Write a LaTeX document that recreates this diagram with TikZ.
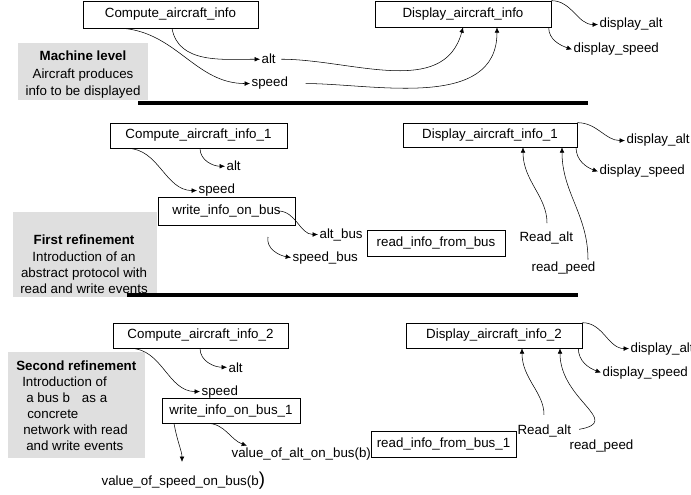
\documentclass[tikz,border=0pt]{standalone}
\usepackage{fontspec}
\setmainfont{Liberation Sans}
\usetikzlibrary{arrows.meta}

\begin{document}
\begin{tikzpicture}[x=0.75pt,y=-0.75pt,
		font=\fontsize{10}{12}\selectfont,
		box/.style={draw,line width=0.5,inner sep=0pt},
		lbl/.style={anchor=base west,inner sep=1pt},
		flow/.style={line width=0.4,-{Latex[length=4pt,width=3.5pt]}},
		panel/.style={fill=gray!25},
		sep/.style={line width=2.4}]
			\useasboundingbox (0,0) rectangle (691,495);
			% machine level
			\node[box,minimum width=131.25pt,minimum height=20.25pt] (cai) at (170.5,14.5) {Compute\_aircraft\_info};
			\node[box,minimum width=132pt,minimum height=19.5pt] (dai) at (463,14) {Display\_aircraft\_info};
			\node[lbl] (alt1) at (260,64) {alt};
			\node[lbl] (spd1) at (250,87) {speed};
			\node[lbl] (dalt1) at (598,28) {display\_alt};
			\node[lbl] (dspd1) at (572,53) {display\_speed};
			\fill[panel] (18,43) rectangle (148,100);
			\node[align=center,anchor=north,inner sep=0pt,font=\fontsize{10}{13}\selectfont] (lvl0) at (83,51)
				{\textbf{Machine level}\\Aircraft produces\\info to be displayed};
			\draw[flow] (172,0 |- cai.south) to[out=-80,in=180] (alt1.west);
			\draw[flow] (123,0 |- cai.south) to[out=-5,in=180] (spd1.west);
			\draw[flow,shorten <=3pt] (alt1.east) to[out=0,in=-105] (463,0 |- dai.south);
			\draw[flow,shorten <=12pt] (spd1.east) to[out=0,in=-90] (497,0 |- dai.south);
			\draw[flow] (dai.north east) to[out=0,in=180] (dalt1.west);
			\draw[flow] ([xshift=-2pt]dai.south east) to[out=-90,in=160] (dspd1.west);
			\draw[sep] (138,103) -- (588,103);
			% first refinement
			\node[box,minimum width=132.75pt,minimum height=18.75pt] (cai1) at (198.5,135.5) {Compute\_aircraft\_info\_1};
			\node[box,minimum width=102.75pt,minimum height=21pt] (wib) at (226.5,211) {write\_info\_on\_bus};
			\node[box,minimum width=130.5pt,minimum height=18pt] (dai1) at (490,135) {Display\_aircraft\_info\_1};
			\node[box,minimum width=103.5pt,minimum height=19.5pt] (rib) at (436,243) {read\_info\_from\_bus};
			\node[lbl] (alt2) at (225,171) {alt};
			\node[lbl] (spd2) at (197,194) {speed};
			\node[lbl] (altbus) at (318,238) {alt\_bus};
			\node[lbl] (spdbus) at (291,261) {speed\_bus};
			\node[lbl] (dalt2) at (625,144) {display\_alt};
			\node[lbl] (dspd2) at (598,175) {display\_speed};
			\node[lbl] (ralt1) at (518,241) {Read\_alt};
			\node[lbl] (rpd1) at (530,271) {read\_peed};
			\coordinate (sbfrom) at (268,237);
			\fill[panel] (13,212) rectangle (157,297);
			\node[align=center,anchor=north,inner sep=0pt,font=\fontsize{10}{12.25}\selectfont] (lvl1) at (84,235)
				{\textbf{First refinement}\\Introduction of an\\abstract protocol with\\read and write events};
			\draw[flow] (200,0 |- cai1.south) to[out=-90,in=180] (alt2.west);
			\draw[flow] (127,0 |- cai1.south) to[out=0,in=180] (spd2.west);
			\draw[flow] ([xshift=-13pt]wib.east) to[out=0,in=180] (altbus.west);
			\draw[flow] (sbfrom) to[out=-100,in=170] (spdbus.west);
			\draw[flow] (dai1.north east) to[out=0,in=180] (dalt2.west);
			\draw[flow] ([xshift=-1pt]dai1.south east) to[out=-90,in=160] (dspd2.west);
			\draw[flow,shorten <=5pt] (547,0 |- ralt1.north) to[out=90,in=-90] (523,0 |- dai1.south);
			\draw[flow] (588,0 |- rpd1.north) to[out=90,in=-90] (562,0 |- dai1.south);
			\draw[sep] (127,295) -- (578,295);
			% second refinement
			\node[box,minimum width=131.25pt,minimum height=18.75pt] (cai2) at (200.5,335.5) {Compute\_aircraft\_info\_2};
			\node[box,minimum width=103.5pt,minimum height=18.75pt] (wib1) at (231,410.5) {write\_info\_on\_bus\_1};
			\node[box,minimum width=132pt,minimum height=18.75pt] (dai2) at (494,335.5) {Display\_aircraft\_info\_2};
			\node[box,minimum width=108.75pt,minimum height=19.5pt] (rib1) at (443.5,444) {read\_info\_from\_bus\_1};
			\node[lbl] (alt3) at (227,372) {alt};
			\node[lbl] (spd3) at (200,395) {speed};
			\node[lbl] (valt) at (230,457) {value\_of\_alt\_on\_bus(b)};
			\node[lbl] (vspd) at (100,485) {value\_of\_speed\_on\_bus(b{\fontsize{14}{14}\selectfont )}};
			\node[lbl] (dalt3) at (629,352) {display\_alt};
			\node[lbl] (dspd3) at (601,376) {display\_speed};
			\node[lbl] (ralt2) at (516,434) {Read\_alt};
			\node[lbl] (rpd2) at (568,449) {read\_peed};
			\fill[panel] (8,352) rectangle (145,458);
			\node[align=left,anchor=north west,inner sep=0pt] (lvl2) at (16,361)
				{\textbf{Second refinement}\\
				\hspace*{4.5pt}Introduction of\\
				\hspace*{7.5pt}a bus b\hspace{9pt}as a\\
				\hspace*{8.25pt}concrete\\
				\hspace*{5.25pt}network with read\\
				\hspace*{7.5pt}and write events};
			\draw[flow] (200,0 |- cai2.south) to[out=-90,in=180] (alt3.west);
			\draw[flow] (130,0 |- cai2.south) to[out=0,in=180] (spd3.west);
			\draw[flow] (207,0 |- wib1.south) to[out=0,in=160] (247,0 |- valt.north);
			\draw[flow,shorten >=6pt] (174,0 |- wib1.south) to[out=-80,in=90] (182,0 |- vspd.north);
			\draw[flow] (dai2.north east) to[out=0,in=180] (dalt3.west);
			\draw[flow] ([xshift=-3pt]dai2.south east) to[out=-90,in=160] (dspd3.west);
			\draw[flow,shorten <=6pt] (544,0 |- ralt2.north) to[out=90,in=-90] (522,0 |- dai2.south);
			\draw[flow,shorten <=5pt] (ralt2.east) to[out=10,in=-90,looseness=1.6] (560,0 |- dai2.south);
		\end{tikzpicture}
\end{document}
